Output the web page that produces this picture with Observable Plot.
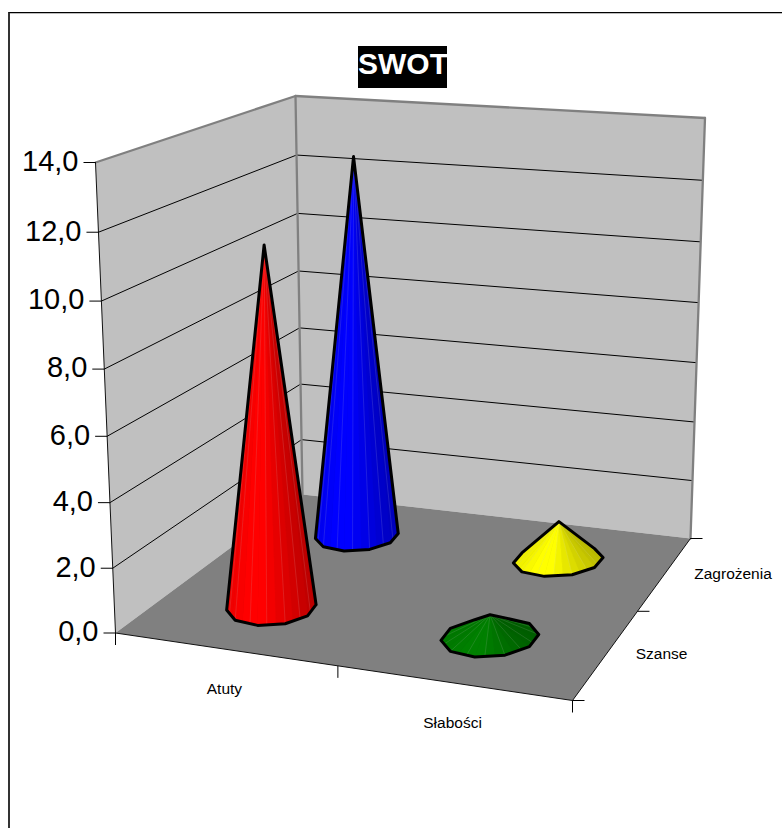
<!DOCTYPE html>
<html><head><meta charset="utf-8">
<script src="https://cdn.jsdelivr.net/npm/d3@7"></script>
<script src="https://cdn.jsdelivr.net/npm/@observablehq/plot@0.6"></script>
<style>
html,body{margin:0;padding:0;background:#fff;overflow:hidden}
#page{position:relative;width:782px;height:828px;overflow:hidden}
#frame{position:absolute;left:8px;top:12px;width:800px;height:840px;border-left:2px solid #333;border-top:1px solid #000;box-shadow:inset 0 1px 0 #bbb}
#title{position:absolute;left:358px;top:46px;width:89px;height:42px;background:#000;color:#fff;font:bold 30px/35px "Liberation Sans",Arial,sans-serif;text-align:center}
#chart{position:absolute;left:0;top:0}
svg{display:block;background:transparent!important}
</style></head><body>
<div id="page"><div id="frame"></div><div id="chart"></div><div id="title">SWOT</div></div>
<script>
// --- chart content ---
const chartTitle = "SWOT";
const categories = ["Atuty", "Słabości"];
const seriesNames = ["Szanse", "Zagrożenia"];
const valuesSzanse = [11.2, 0.7];
const valuesZagrozenia = [12.7, 1.3];
const seriesColors = [["#ff0000", "#008000"], ["#0000ff", "#ffff00"]];
const valueTicks = [0, 2, 4, 6, 8, 10, 12, 14];
const valueMax = 14;

// --- view of the 3D box (u = category axis, v = depth axis, w = value axis), screen pixels ---
const W = 782, H = 828;
const floorCorners = [[115, 632.5], [572, 700], [690, 538], [302, 494]];   // (0,0) (1,0) (1,1) (0,1)
const ceilCorners  = [[95, 162], [581, 195], [704.5, 117.5], [295, 95.5]];
const depthFalloff = -0.042;
const coneRadiusU = 0.107, coneRadiusV = 0.115, coneSides = 10, coneSub = 3;

function quad(c) { // unit square to quad homography
  const [[x0,y0],[x1,y1],[x2,y2],[x3,y3]] = c;
  const dx1=x1-x2, dx2=x3-x2, sx=x0-x1+x2-x3, dy1=y1-y2, dy2=y3-y2, sy=y0-y1+y2-y3;
  const den=dx1*dy2-dx2*dy1, g=(sx*dy2-dx2*sy)/den, h=(dx1*sy-sx*dy1)/den;
  const a=x1-x0+g*x1, b=x3-x0+h*x3, d=y1-y0+g*y1, e=y3-y0+h*y3;
  return (u,v)=>{const q=g*u+h*v+1; return [(a*u+b*v+x0)/q,(d*u+e*v+y0)/q];};
}
const floorH = quad(floorCorners), ceilH = quad(ceilCorners);
function project(u, v, val) {
  const w = val / valueMax;
  const t = w * (1 + depthFalloff) / (1 + depthFalloff * w);
  const f = floorH(u, v), c = ceilH(u, v);
  return [f[0] + (c[0]-f[0])*t, f[1] + (c[1]-f[1])*t];
}
const pt = (u,v,val,extra={}) => { const p = project(u,v,val); return {x:p[0], y:p[1], ...extra}; };
const poly = (id, corners) => corners.map(([u,v,val]) => pt(u,v,val,{id}));

// --- box faces ---
const faces = [
  ...poly("left",  [[0,0,0],[0,1,0],[0,1,valueMax],[0,0,valueMax],[0,0,0]]),
  ...poly("back",  [[0,1,0],[1,1,0],[1,1,valueMax],[0,1,valueMax],[0,1,0]])
];
const floorFace = poly("floor", [[0,0,0],[1,0,0],[1,1,0],[0,1,0],[0,0,0]]);
const grid = valueTicks.slice(1, -1).flatMap(t => poly("g"+t, [[0,0,t],[0,1,t],[1,1,t]]));
const grayEdges = [
  ...poly("top", [[0,0,valueMax],[0,1,valueMax],[1,1,valueMax]]),
  ...poly("corner", [[0,1,0],[0,1,valueMax]]),
  ...poly("right", [[1,1,0],[1,1,valueMax]])
];
const darkEdges = [
  ...poly("leftEdge", [[0,0,0],[0,0,valueMax]]),
  ...poly("front", [[0,0,0],[1,0,0],[1,1,0]])
];

// --- ticks ---
const tickLen = 12;
const valueTickRows = valueTicks.map(t => { const p = pt(0,0,t); return {x1:p.x-tickLen, x2:p.x, y1:p.y, y2:p.y, t}; });
const catTickRows = [0, 0.51, 1].map(u => { const p = pt(u,0,0); return {x1:p.x, x2:p.x, y1:p.y, y2:p.y+tickLen}; });
const depthTickRows = [0, 0.5, 1].map(v => { const p = pt(1,v,0); return {x1:p.x, x2:p.x+tickLen, y1:p.y, y2:p.y}; });
const catLabels = categories.map((c,i) => pt((i+0.5)/2, 0, 0, {c}));
const depthLabels = seriesNames.map((c,i) => pt(1, (i+0.5)/2, 0, {c}));

// --- cones ---
const shade = d3.scaleLinear().domain([-1,-0.6,-0.2,1]).range([0.93,1,1,0.72]).clamp(true);
const coneFacets = [], coneSeams = [], coneHulls = [], coneOutlines = [];
const cones = [
  {u:.25, v:.75, val:valuesZagrozenia[0], color:seriesColors[1][0], id:"c1"},
  {u:.75, v:.75, val:valuesZagrozenia[1], color:seriesColors[1][1], id:"c2"},
  {u:.25, v:.25, val:valuesSzanse[0], color:seriesColors[0][0], id:"c3"},
  {u:.75, v:.25, val:valuesSzanse[1], color:seriesColors[0][1], id:"c4"}
];
for (const cone of cones) {
  const apex = project(cone.u, cone.v, cone.val);
  const center = project(cone.u, cone.v, 0);
  const e = 0.01;
  const halfW = coneRadiusU * (project(cone.u+e,cone.v,0)[0] - project(cone.u-e,cone.v,0)[0]) / (2*e);
  const halfH = coneRadiusV * (project(cone.u,cone.v-e,0)[1] - project(cone.u,cone.v+e,0)[1]) / (2*e);
  const corners = d3.range(coneSides).map(i => {
    const a = 2*Math.PI*i/coneSides;
    return [center[0] + halfW*Math.cos(a), center[1] + halfH*Math.sin(a) - 0.06*halfW*Math.cos(a)];
  });
  const rim = [];
  corners.forEach((p,i) => { const q = corners[(i+1)%coneSides];
    for (let k=0;k<coneSub;k++) { const s=k/coneSub; rim.push([p[0]+(q[0]-p[0])*s, p[1]+(q[1]-p[1])*s]); }
  });
  const hull = d3.polygonHull([apex, ...corners]);
  const base = d3.rgb(cone.color);
  const fillAt = x => { const f = shade((x-center[0])/halfW); return d3.rgb(base.r*f, base.g*f, base.b*f).formatHex(); };
  coneHulls.push(...[...hull, hull[0]].map(p => ({id:cone.id, x:p[0], y:p[1], fill:fillAt(center[0]+halfW*0.7)})));
  const frontIdx = d3.least(d3.range(rim.length), i => -rim[i][1]);
  const area = i => d3.polygonArea([apex, rim[i], rim[(i+1)%rim.length]]);
  const sign = Math.sign(area(frontIdx));
  rim.forEach((p,i) => {
    const q = rim[(i+1)%rim.length];
    if (Math.sign(area(i)) !== sign) return;
    const id = cone.id + "f" + i, fill = fillAt((p[0]+q[0])/2);
    for (const r of [apex,p,q,apex]) coneFacets.push({id, x:r[0], y:r[1], fill});
    if (i%2===0) coneSeams.push({x1:apex[0], y1:apex[1], x2:p[0], y2:p[1]});
  });
  coneOutlines.push(...[...hull, hull[0]].map(p => ({id:cone.id, x:p[0], y:p[1]})));
}

const font = "Liberation Sans, Arial, sans-serif";
const chart = Plot.plot({
  width: W, height: H, margin: 0,
  x: {domain:[0,W], range:[0,W], axis:null},
  y: {domain:[0,H], range:[0,H], axis:null},
  color: {type:"identity"},
  marks: [
    Plot.line(faces, {x:"x", y:"y", z:"id", fill:"#c0c0c0", stroke:"none"}),
    Plot.line(floorFace, {x:"x", y:"y", z:"id", fill:"#808080", stroke:"none"}),
    Plot.line(grid, {x:"x", y:"y", z:"id", stroke:"#000", strokeWidth:1}),
    Plot.line(grayEdges, {x:"x", y:"y", z:"id", stroke:"#808080", strokeWidth:2.3}),
    Plot.line(darkEdges, {x:"x", y:"y", z:"id", stroke:"#111", strokeWidth:1}),
    Plot.link(valueTickRows, {x1:"x1", x2:"x2", y1:"y1", y2:"y2", stroke:"#000", strokeWidth:1}),
    Plot.link(catTickRows, {x1:"x1", x2:"x2", y1:"y1", y2:"y2", stroke:"#000", strokeWidth:1}),
    Plot.link(depthTickRows, {x1:"x1", x2:"x2", y1:"y1", y2:"y2", stroke:"#000", strokeWidth:1}),
    Plot.text(valueTickRows, {x:"x1", y:"y1", text:d=>d.t.toFixed(1).replace(".",","), textAnchor:"end", dx:-5, dy:-1, fontSize:29, fontFamily:font, fill:"#000"}),
    Plot.text(catLabels, {x:"x", y:"y", text:"c", dx:2.5, dy:40.5, fontSize:15.5, fontFamily:font, fill:"#000"}),
    Plot.text(depthLabels, {x:"x", y:"y", text:"c", textAnchor:"start", dx:29, dy:1, fontSize:15.5, fontFamily:font, fill:"#000"}),
    Plot.line(coneHulls, {x:"x", y:"y", z:"id", fill:"fill", stroke:"none"}),
    Plot.line(coneFacets, {x:"x", y:"y", z:"id", fill:"fill", stroke:"fill", strokeWidth:0.4}),
    Plot.link(coneSeams, {x1:"x1", x2:"x2", y1:"y1", y2:"y2", stroke:"#ddd", strokeOpacity:0.2, strokeWidth:0.7}),
    Plot.line(coneOutlines, {x:"x", y:"y", z:"id", stroke:"#000", strokeWidth:3, strokeLinejoin:"round"})
  ]
});
document.getElementById("chart").appendChild(chart);
document.getElementById("title").textContent = chartTitle;
</script>
</body></html>
